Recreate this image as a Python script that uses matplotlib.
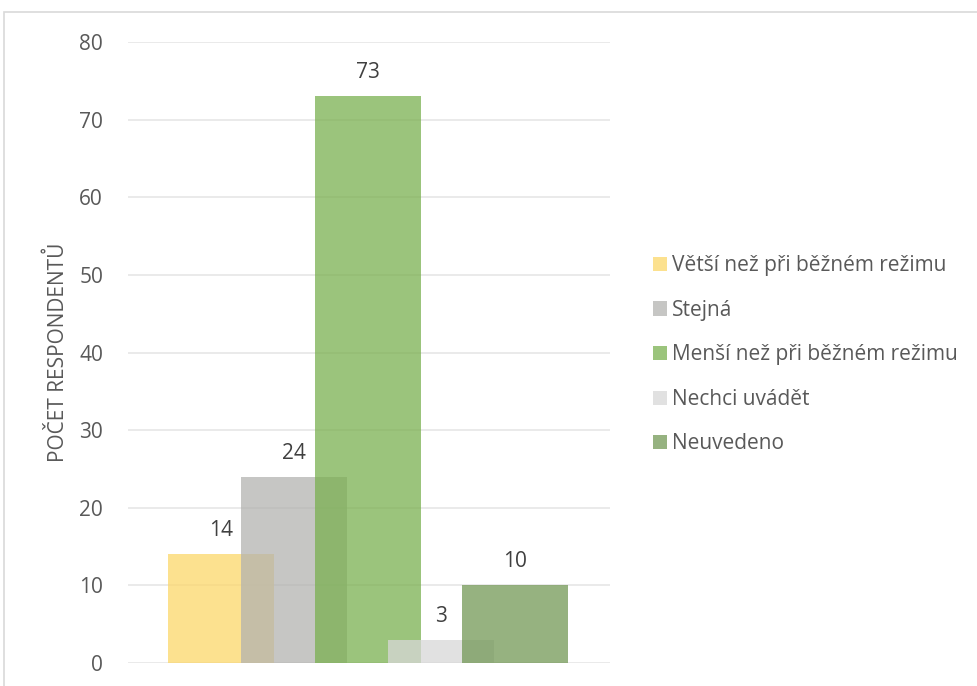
import numpy as np
import matplotlib
matplotlib.use("Agg")
import matplotlib.pyplot as plt
from matplotlib.patches import Patch, Rectangle

# data
categories = ["Větší než při běžném režimu", "Stejná", "Menší než při běžném režimu",
              "Nechci uvádět", "Neuvedeno"]
counts = [14, 24, 73, 3, 10]
colors = ["#FCD76A", "#B3B3B0", "#7AB050", "#D8D8D8", "#739856"]
yticks = [0, 10, 20, 30, 40, 50, 60, 70, 80]

plt.rcParams["font.family"] = ["Open Sans", "DejaVu Sans"]

fig = plt.figure(figsize=(9.78, 6.86), dpi=100)
ax = fig.add_axes([0.1309, 0.0335, 0.4928, 0.9053])

pos = np.arange(len(counts)) - 2
for p, c, col in zip(pos, counts, colors):
    ax.bar(p, c, width=1.44, color=col, alpha=0.75, zorder=2)
    ax.annotate(str(c), (p, c), xytext=(0, 9.5), textcoords="offset points",
                ha="center", va="bottom", fontsize=15, color="#404040")

ax.set_xlim(-3.26, 3.29)
ax.set_ylim(0, 80)
ax.set_yticks(yticks)
ax.set_xticks([])
ax.tick_params(axis="y", length=0, pad=18, labelsize=15, labelcolor="#595959")
ax.grid(axis="y", color="#E6E6E6", linewidth=1.2, zorder=0)
for s in ax.spines.values():
    s.set_visible(False)
ax.set_ylabel("POČET RESPONDENTŮ", fontsize=15, color="#595959", labelpad=7)

handles = [Patch(facecolor=col, alpha=0.75) for col in colors]
fig.legend(handles, categories, loc="upper left", bbox_to_anchor=(0.659, 0.64),
           frameon=False, fontsize=15, labelcolor="#595959",
           handlelength=0.67, handleheight=0.67, handletextpad=0.25,
           labelspacing=1.13, borderaxespad=0)

# outer chart border
fig.patches.append(Rectangle((0.004, -0.05), 1.2, 0.9825 + 0.05, transform=fig.transFigure,
                             fill=False, edgecolor="#D9D9D9", linewidth=1.2))

fig.savefig("out.png", dpi=100)
